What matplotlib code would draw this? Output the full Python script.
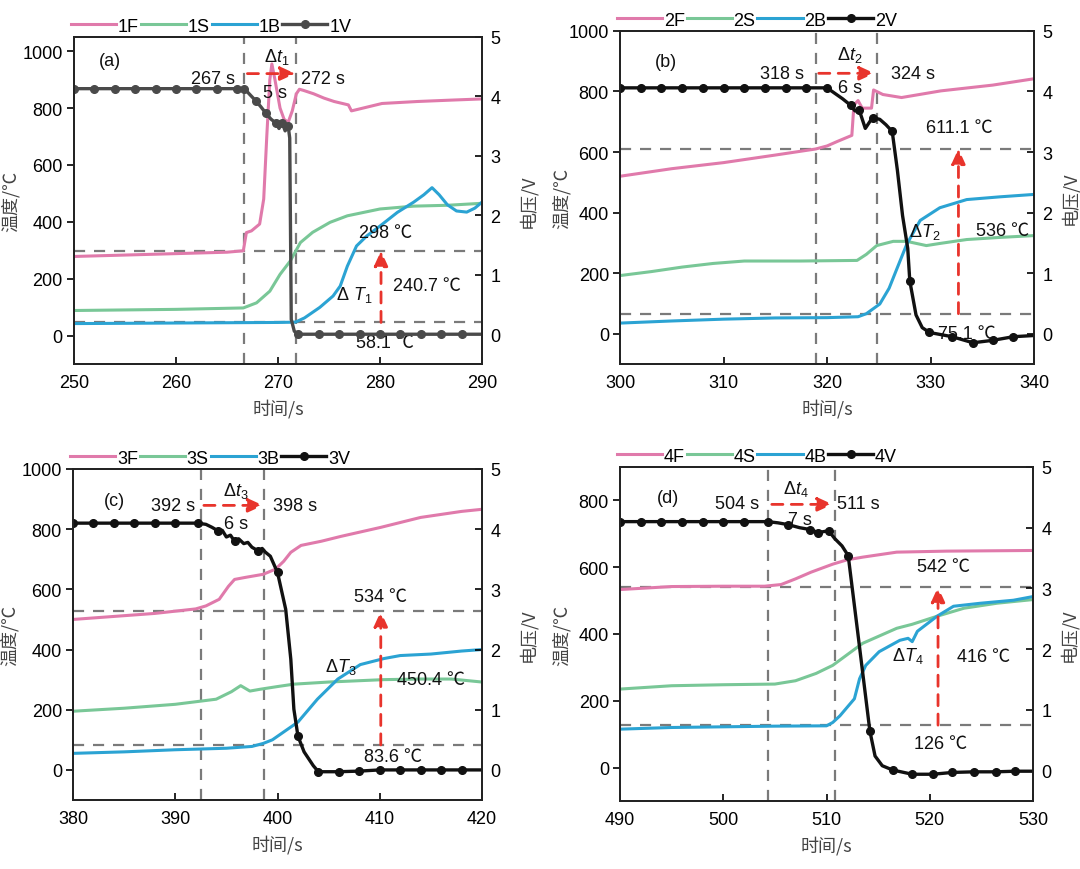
import numpy as np
import matplotlib
matplotlib.use("Agg")
import matplotlib.pyplot as plt

plt.rcParams["font.family"] = ["Liberation Sans", "Noto Sans CJK SC", "DejaVu Sans"]
plt.rcParams["font.size"] = 13
plt.rcParams["mathtext.fontset"] = "custom"
plt.rcParams["mathtext.rm"] = "Liberation Sans"
plt.rcParams["mathtext.it"] = "Liberation Sans:italic"
plt.rcParams["axes.unicode_minus"] = False

PINK = "#e07aab"
GREEN = "#79c797"
BLUE = "#2ba3d3"
GRAY = "#7a7a7a"
RED = "#e8342c"
CJK = ["Noto Sans CJK SC", "DejaVu Sans"]

# ---- panel (a) ----
F1_T = [250, 255, 260, 265, 266.6, 266.9, 267.4, 268.2, 268.6, 268.9, 269.2, 269.4, 269.7,
        270.2, 270.6, 271.0, 271.4, 271.8, 272.1, 272.5, 273.5, 274.5, 275.5, 276.9, 277.2,
        277.9, 280.2, 283.7, 287.1, 290]
F1_Y = [278, 283, 288, 293, 298, 362, 368, 392, 480, 700, 900, 955, 900,
        800, 760, 750, 790, 850, 866, 862, 850, 835, 823, 811, 790,
        796, 816, 823, 828, 832]
S1_T = [250, 255, 260, 266.6, 267.9, 269.2, 270.2, 271.2, 272.2, 273.4, 275.1, 276.8, 280,
        283.3, 286.6, 290]
S1_Y = [88, 90, 92, 97, 115, 156, 215, 262, 327, 363, 398, 421, 445, 455, 458, 465]
B1_T = [250, 255, 260, 265, 270, 271.7, 272.6, 274.1, 275.4, 276.1, 276.8, 277.7, 278.7,
        280, 281.7, 283.3, 284.3, 285.1, 285.8, 286.6, 287.5, 288.5, 289.3, 290]
B1_Y = [42, 43, 44, 45, 46, 47, 62, 99, 139, 174, 244, 315, 350,
        385, 433, 469, 495, 520, 495, 460, 438, 434, 448, 469]
V1_T = [250, 252, 254, 256, 258, 260, 262, 264, 266, 266.7, 267.3, 267.8, 268.3, 268.8,
        269.3, 269.8, 270.1, 270.4, 270.7, 271.0, 271.15, 271.3, 271.6, 272, 274, 276, 278,
        280, 282, 284, 286, 288, 290]
V1_V = [4.13, 4.13, 4.13, 4.13, 4.13, 4.13, 4.13, 4.13, 4.13, 4.13, 4.02, 3.93, 3.83, 3.72,
        3.62, 3.55, 3.46, 3.56, 3.42, 3.5, 3.3, 0.25, 0.05, 0.0, 0.0, 0.0, 0.0,
        0.0, 0.0, 0.0, 0.0, 0.0, 0.0]
V1_DOT = [1, 1, 1, 1, 1, 1, 1, 1, 1, 1, 0, 1, 0, 1, 0, 1, 0, 1, 0, 1, 0, 0, 0,
          1, 1, 1, 1, 1, 1, 1, 1, 1, 0]

# ---- panel (b) ----
F2_T = [300, 305, 310, 315, 318.9, 320, 321, 322.4, 322.6, 323.0, 323.4, 324.3, 324.5,
        325.4, 327.2, 331, 336, 340]
F2_Y = [520, 545, 565, 590, 610, 620, 635, 655, 755, 770, 745, 745, 805,
        790, 780, 802, 821, 842]
S2_T = [300, 303, 306, 309, 312, 317.4, 322.9, 323.8, 324.8, 326.4, 327.7, 329.6, 330.9,
        333.5, 336.7, 340]
S2_Y = [192, 205, 220, 232, 240, 240, 242, 262, 291, 305, 305, 291, 298, 311, 318, 324]
B2_T = [300, 305, 310, 315, 320, 323.0, 323.8, 325.1, 326.0, 326.7, 327.7, 329.0, 330.9,
        333.5, 336.7, 340]
B2_Y = [35, 42, 48, 52, 53, 56, 66, 98, 150, 210, 295, 374, 416, 443, 452, 460]
V2_T = [300, 302, 304, 306, 308, 310, 312, 314, 316, 318, 320, 321.5, 322.3, 322.7, 323.1,
        323.7, 324.4, 325.1, 325.7, 326.3, 326.8, 327.3, 327.8, 328.0, 328.6, 329.2, 329.9,
        332.1, 334.1, 336.0, 338.0, 340]
V2_V = [4.06, 4.06, 4.06, 4.06, 4.06, 4.06, 4.06, 4.06, 4.06, 4.06, 4.06, 3.88, 3.77, 3.68,
        3.7, 3.39, 3.57, 3.54, 3.45, 3.34, 2.7, 1.95, 1.41, 0.87, 0.31, 0.1, 0.02,
        -0.05, -0.15, -0.11, -0.05, -0.03]
V2_DOT = [1, 1, 1, 1, 1, 1, 1, 1, 1, 1, 1, 0, 1, 0, 1, 0, 1, 0, 0, 1, 0, 0, 0, 1, 0, 0, 1,
          1, 1, 1, 1, 0]

# ---- panel (c) ----
F3_T = [380, 384, 388, 392, 393, 394.3, 395.2, 395.8, 396.9, 398.6, 399.8, 400.6, 401.3,
        402.3, 404.3, 406.2, 410.1, 414, 418, 420]
F3_Y = [500, 510, 520, 535, 545, 567, 610, 633, 640, 650, 667, 693, 723,
        746, 760, 776, 806, 839, 859, 866]
S3_T = [380, 385, 390, 394, 395.5, 396.4, 397.3, 398.3, 400, 401.6, 405, 410.4, 414, 417,
        418.5, 420]
S3_Y = [195, 205, 218, 235, 260, 280, 262, 268, 277, 285, 292, 300, 302, 302, 297, 292]
B3_T = [380, 385, 390, 395, 397.5, 398.6, 399.5, 400.6, 402, 403.9, 405.9, 408.1, 410.4,
        412, 415, 418, 420]
B3_Y = [55, 60, 67, 72, 78, 88, 100, 126, 159, 235, 302, 350, 370, 380, 385, 395, 400]
V3_T = [380, 382, 384, 386, 388, 390, 392.2, 393.0, 393.6, 394.2, 394.6, 395.0, 395.4,
        395.8, 396.2, 396.7, 397.1, 397.5, 398.1, 398.5, 398.8, 399.3, 400.0, 400.8, 401.3,
        401.6, 402.0, 402.6, 403.5, 404.0, 406, 408, 410, 412, 414, 416, 418, 420]
V3_V = [4.1, 4.1, 4.1, 4.1, 4.1, 4.1, 4.1, 4.08, 4.03, 3.97, 3.98, 3.87, 3.9,
        3.8, 3.84, 3.76, 3.78, 3.7, 3.64, 3.68, 3.62, 3.55, 3.28, 2.67, 1.84,
        1.01, 0.56, 0.3, 0.07, -0.03, -0.03, -0.02, 0.0, 0.0, 0.0, 0.0, 0.0, 0.0]
V3_DOT = [1, 1, 1, 1, 1, 1, 1, 0, 0, 1, 0, 0, 0, 1, 0, 0, 0, 0, 1, 0, 0, 0, 1, 0, 0,
          0, 1, 0, 0, 1, 1, 1, 1, 1, 1, 1, 1, 0]

# ---- panel (d) ----
F4_T = [490, 495, 500, 504, 505.6, 507, 508.5, 510.6, 512, 513.5, 516.8, 521.6, 530]
F4_Y = [533, 542, 543, 543, 548, 565, 585, 609, 622, 630, 645, 648, 650]
S4_T = [490, 495, 500, 505, 507, 509, 510.6, 513.5, 516.8, 518.3, 520.7, 523.3, 526.5, 530]
S4_Y = [235, 245, 248, 250, 260, 282, 306, 372, 417, 429, 453, 477, 492, 503]
B4_T = [490, 495, 500, 505, 510, 510.6, 511.3, 512.7, 513.2, 513.8, 515.1, 517.1, 517.9,
        518.3, 518.8, 520.7, 522.3, 524.9, 528.1, 530]
B4_Y = [115, 120, 122, 124, 125, 135, 155, 206, 266, 306, 347, 381, 387,
        377, 408, 453, 483, 492, 501, 512]
V4_T = [490, 492, 494, 496, 498, 500, 502, 504.3, 505.3, 506.3, 507.4, 508.4, 509.2, 510.2,
        510.8, 511.5, 512.1, 513.1, 513.7, 514.2, 514.7, 515.4, 516.4, 518.3, 520.3, 522.2,
        524.3, 526.4, 528.3, 530]
V4_V = [4.1, 4.1, 4.1, 4.1, 4.1, 4.1, 4.1, 4.1, 4.08, 4.05, 4.0, 3.97, 3.92, 3.95,
        3.82, 3.7, 3.54, 2.17, 1.34, 0.65, 0.24, 0.08, 0.01, -0.06, -0.06, -0.03,
        -0.02, -0.02, -0.01, -0.01]
V4_DOT = [1, 1, 1, 1, 1, 1, 1, 1, 0, 1, 0, 1, 1, 1, 0, 0, 1, 0, 0, 1, 0, 0, 1, 1, 1, 1,
          1, 1, 1, 0]


def red_arrow(ax, start, end):
    ax.annotate("", xy=end, xytext=start,
                arrowprops=dict(arrowstyle="-|>,head_length=0.7,head_width=0.32",
                                color=RED, lw=2, ls=(0, (4, 3)),
                                shrinkA=0, shrinkB=0))


def draw_panel(fig, rect, xlim, ylim, yticks, series, names, vcolor,
               vlines, hlines, texts, harrow, varrow, ylab_x, y2lab_x):
    ax = fig.add_axes(rect)
    ax2 = ax.twinx()
    (ft, fy), (st, sy), (bt, by), (vt, vv, vdot) = series
    lf, = ax.plot(ft, fy, color=PINK, lw=2.2)
    ls_, = ax.plot(st, sy, color=GREEN, lw=2.2)
    lb, = ax.plot(bt, by, color=BLUE, lw=2.2)
    for x in vlines:
        ax.axvline(x, color=GRAY, lw=1.6, ls=(0, (5, 4)), zorder=1)
    for y in hlines:
        ax.axhline(y, color=GRAY, lw=1.6, ls=(0, (5, 4)), zorder=1)
    marks = [i for i, d in enumerate(vdot) if d]
    lv, = ax2.plot(vt, vv, color=vcolor, lw=2.4, marker="o", ms=5.5,
                   markevery=marks)

    ax.set_xlim(*xlim)
    ax.set_ylim(*ylim)
    ax.set_yticks(yticks)
    ax.set_xticks(np.arange(xlim[0], xlim[1] + 1, 10))
    ax2.set_ylim(-0.5, 5)
    ax2.set_yticks([0, 1, 2, 3, 4, 5])

    ax.tick_params(axis="y", direction="out", length=5, width=1.2, pad=3)
    ax.tick_params(axis="x", direction="in", length=5, width=1.2, pad=7)
    ax2.tick_params(axis="y", direction="in", length=5, width=1.2, pad=6)
    for a in (ax, ax2):
        for sp in a.spines.values():
            sp.set_linewidth(1.3)
            sp.set_color("#222222")

    ax.set_xlabel("时间/s", family=CJK, color="#444444", fontsize=13, labelpad=6)
    ax.set_ylabel("温度/℃", family=CJK, color="#444444", fontsize=13)
    ax.yaxis.set_label_coords(ylab_x, 0.5)
    ax2.set_ylabel("电压/V", family=CJK, color="#444444", fontsize=13)
    ax2.yaxis.set_label_coords(y2lab_x, 0.5)

    for x, y, s, ha in texts:
        ax.text(x, y, s, ha=ha, va="center", fontsize=13, color="#111111", zorder=5)
    red_arrow(ax, harrow[0], harrow[1])
    red_arrow(ax, varrow[0], varrow[1])

    ax.legend([lf, ls_, lb, lv], names, ncol=4, loc="lower left",
              bbox_to_anchor=(-0.025, 0.985), frameon=False, handlelength=2.5,
              handletextpad=0.1, columnspacing=0.1, borderaxespad=0.0,
              fontsize=13)
    return ax, ax2


fig = plt.figure(figsize=(10.8, 8.7), dpi=100)

draw_panel(
    fig, [0.0685, 0.5805, 0.3778, 0.3759], (250, 290), (-100, 1050),
    [0, 200, 400, 600, 800, 1000],
    [(F1_T, F1_Y), (S1_T, S1_Y), (B1_T, B1_Y), (V1_T, V1_V, V1_DOT)],
    ["1F", "1S", "1B", "1V"], "#4a4a4a",
    [266.7, 271.8], [298, 46],
    [(253.5, 968, "(a)", "center"),
     (269.9, 983, r"$\Delta t_1$", "center"),
     (265.8, 903, "267 s", "right"),
     (272.3, 903, "272 s", "left"),
     (269.7, 856, "5 s", "center"),
     (280.5, 363, "298 ℃", "center"),
     (284.6, 176, "240.7 ℃", "center"),
     (277.5, 145, r"$\Delta\ T_1$", "center"),
     (280.5, -25, "58.1 ℃", "center")],
    ((267.0, 921), (271.7, 921)), ((280.1, 46), (280.1, 298)),
    -0.132, 1.09)

draw_panel(
    fig, [0.5741, 0.5805, 0.3833, 0.3828], (300, 340), (-100, 1000),
    [0, 200, 400, 600, 800, 1000],
    [(F2_T, F2_Y), (S2_T, S2_Y), (B2_T, B2_Y), (V2_T, V2_V, V2_DOT)],
    ["2F", "2S", "2B", "2V"], "#111111",
    [318.9, 324.8], [611, 66],
    [(304.4, 900, "(b)", "center"),
     (322.2, 925, r"$\Delta t_2$", "center"),
     (317.8, 860, "318 s", "right"),
     (326.2, 860, "324 s", "left"),
     (322.2, 814, "6 s", "center"),
     (332.8, 680, "611.1 ℃", "center"),
     (337.0, 340, "536 ℃", "center"),
     (329.4, 340, r"$\Delta T_2$", "center"),
     (333.5, 0, "75.1 ℃", "center")],
    ((319.2, 860), (324.6, 860)), ((332.7, 66), (332.7, 611)),
    -0.118, 1.063)

draw_panel(
    fig, [0.0676, 0.0793, 0.3787, 0.3805], (380, 420), (-100, 1000),
    [0, 200, 400, 600, 800, 1000],
    [(F3_T, F3_Y), (S3_T, S3_Y), (B3_T, B3_Y), (V3_T, V3_V, V3_DOT)],
    ["3F", "3S", "3B", "3V"], "#111111",
    [392.5, 398.7], [527, 83],
    [(384.1, 896, "(c)", "center"),
     (395.9, 930, r"$\Delta t_3$", "center"),
     (391.9, 879, "392 s", "right"),
     (399.6, 879, "398 s", "left"),
     (395.9, 820, "6 s", "center"),
     (410.1, 577, "534 ℃", "center"),
     (406.2, 345, r"$\Delta T_3$", "center"),
     (415.0, 300, "450.4 ℃", "center"),
     (411.3, 43, "83.6 ℃", "center")],
    ((392.8, 879), (398.6, 879)), ((410.1, 83), (410.1, 527)),
    -0.132, 1.09)

draw_panel(
    fig, [0.5741, 0.0782, 0.3824, 0.3839], (490, 530), (-100, 900),
    [0, 200, 400, 600, 800],
    [(F4_T, F4_Y), (S4_T, S4_Y), (B4_T, B4_Y), (V4_T, V4_V, V4_DOT)],
    ["4F", "4S", "4B", "4V"], "#111111",
    [504.3, 510.8], [541, 127],
    [(494.6, 810, "(d)", "center"),
     (507.0, 836, r"$\Delta t_4$", "center"),
     (503.5, 790, "504 s", "right"),
     (511.0, 790, "511 s", "left"),
     (507.4, 742, "7 s", "center"),
     (521.3, 603, "542 ℃", "center"),
     (517.9, 336, r"$\Delta T_4$", "center"),
     (525.2, 333, "416 ℃", "center"),
     (521.0, 71, "126 ℃", "center")],
    ((504.7, 788), (510.6, 788)), ((520.8, 127), (520.8, 541)),
    -0.118, 1.063)

fig.savefig("out.png", dpi=100)
